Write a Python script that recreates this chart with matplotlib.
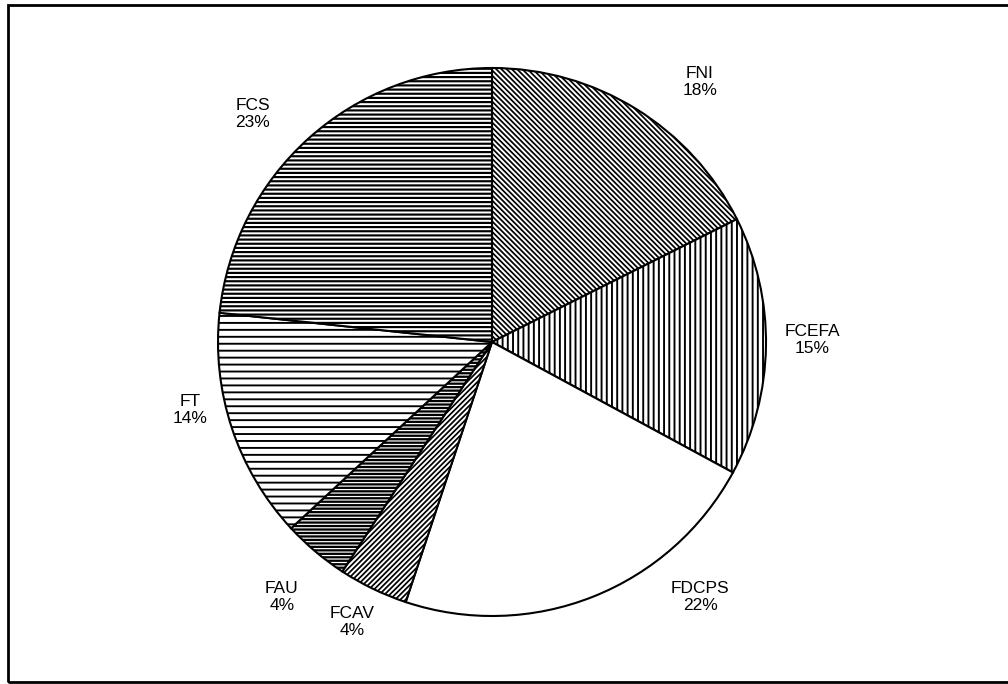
import matplotlib.pyplot as plt
from matplotlib.patches import Rectangle

# share of each fund, clockwise from 12 o'clock
names = ["FNI", "FCEFA", "FDCPS", "FCAV", "FAU", "FT", "FCS"]
shares = [17.6, 15.3, 22.2, 4.1, 3.9, 13.6, 23.3]

hatches = ["\\" * 8, "||||", "", "/" * 8, "-" * 6, "---", "-----"]
hatch_lw = [1.0, 1.1, 1.0, 1.0, 1.3, 1.1, 1.25]
# label centres in pixels (x from left, y from top)
label_xy = [(700, 82), (812, 340), (700, 597), (352, 622),
            (282, 597), (190, 410), (253, 114)]

plt.rcParams['font.family'] = ['Liberation Sans', 'DejaVu Sans']
plt.rcParams['hatch.linewidth'] = 1.1

W, H = 1008, 684
fig = plt.figure(figsize=(W / 125, H / 125), dpi=125)
ax = fig.add_axes([0, 0, 1, 1])

wedges, _ = ax.pie(shares, startangle=90, counterclock=False,
                   center=(492, H - 342), radius=274,
                   colors=['white'] * len(shares),
                   wedgeprops=dict(edgecolor='black', linewidth=1.2))
for w, h, lw in zip(wedges, hatches, hatch_lw):
    w.set_hatch(h)
    if hasattr(w, 'set_hatch_linewidth'):
        w.set_hatch_linewidth(lw)

ax.set_xlim(0, W)
ax.set_ylim(0, H)
ax.set_aspect('equal')
ax.axis('off')

for name, v, (x, y) in zip(names, shares, label_xy):
    ax.text(x, H - y, "%s\n%d%%" % (name, round(v)), ha='center', va='center',
            multialignment='center', fontsize=10, linespacing=1.2)

# outer frame
ax.add_patch(Rectangle((8, 2), 1020, 677, fill=False, edgecolor='black',
                       linewidth=1.6, clip_on=False))

fig.savefig("out.png", dpi=125)
